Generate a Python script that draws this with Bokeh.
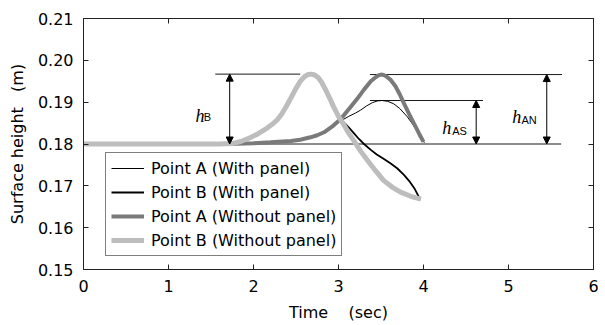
from bokeh.plotting import figure
from bokeh.models import (Range1d, LinearAxis, FixedTicker, NumeralTickFormatter,
                          CustomJSTickFormatter, Legend, LegendItem, Arrow, NormalHead, Label)
from bokeh.embed import file_html
from bokeh.resources import INLINE

# ---------------- data ----------------
x_ticks = [0, 1, 2, 3, 4, 5, 6]
y_ticks = [0.15, 0.16, 0.17, 0.18, 0.19, 0.20, 0.21]

# Point B (Without panel)
t_b_wo = [0.00, 1.60, 1.75, 1.85, 1.96, 2.05, 2.16, 2.22, 2.28, 2.33, 2.38, 2.44, 2.50, 2.55,
          2.60, 2.64, 2.68, 2.72, 2.76, 2.80, 2.85, 2.90, 2.94, 3.00, 3.06, 3.12, 3.18, 3.26,
          3.34, 3.44, 3.53, 3.63, 3.73, 3.85, 3.97]
h_b_wo = [0.1800, 0.1800, 0.1801, 0.1806, 0.1815, 0.1824, 0.1838, 0.1847, 0.1858, 0.1871,
          0.1888, 0.1910, 0.1933, 0.1950, 0.1961, 0.1966, 0.1967, 0.1965, 0.1959, 0.1948,
          0.1929, 0.1908, 0.1890, 0.1866, 0.1847, 0.1826, 0.1808, 0.1783, 0.1761, 0.1735,
          0.1713, 0.1697, 0.1685, 0.1675, 0.1668]

# Point A (Without panel)
t_a_wo = [0.00, 1.70, 2.00, 2.20, 2.44, 2.55, 2.67, 2.75, 2.83, 2.94, 3.00, 3.06, 3.14, 3.22,
          3.30, 3.38, 3.44, 3.47, 3.50, 3.53, 3.56, 3.61, 3.67, 3.72, 3.77, 3.83, 3.89, 3.95,
          4.00]
h_a_wo = [0.1800, 0.1800, 0.1802, 0.1804, 0.1807, 0.1810, 0.1816, 0.1821, 0.1828, 0.1844,
          0.1855, 0.1868, 0.1888, 0.1908, 0.1930, 0.1950, 0.1960, 0.1964, 0.1966, 0.1965,
          0.1962, 0.1954, 0.1938, 0.1919, 0.1897, 0.1872, 0.1848, 0.1824, 0.1805]

# Point A (With panel)
t_a_w = [0.00, 1.70, 2.00, 2.20, 2.44, 2.55, 2.67, 2.75, 2.83, 2.94, 3.00, 3.06, 3.12, 3.20,
         3.26, 3.33, 3.40, 3.46, 3.51, 3.58, 3.65, 3.72, 3.81, 3.87, 3.93, 4.01]
h_a_w = [0.1800, 0.1800, 0.1802, 0.1804, 0.1807, 0.1810, 0.1816, 0.1821, 0.1828, 0.1844,
         0.1852, 0.1859, 0.1866, 0.1874, 0.1881, 0.1891, 0.1899, 0.1903, 0.1904, 0.1902,
         0.1896, 0.1885, 0.1865, 0.1848, 0.1830, 0.1803]

# Point B (With panel)
t_b_w = [0.00, 1.60, 1.75, 1.85, 1.96, 2.05, 2.16, 2.22, 2.28, 2.33, 2.38, 2.44, 2.50, 2.55,
         2.60, 2.64, 2.68, 2.72, 2.76, 2.80, 2.85, 2.90, 2.94, 3.00, 3.06, 3.12, 3.18, 3.24,
         3.30, 3.38, 3.45, 3.53, 3.61, 3.69, 3.77, 3.83, 3.89, 3.95]
h_b_w = [0.1800, 0.1800, 0.1801, 0.1806, 0.1815, 0.1824, 0.1838, 0.1847, 0.1858, 0.1871,
         0.1888, 0.1910, 0.1933, 0.1950, 0.1961, 0.1966, 0.1967, 0.1965, 0.1959, 0.1948,
         0.1929, 0.1908, 0.1890, 0.1868, 0.1852, 0.1840, 0.1826, 0.1812, 0.1800, 0.1786,
         0.1775, 0.1765, 0.1754, 0.1742, 0.1726, 0.1712, 0.1695, 0.1672]

labels = ["Point A (With panel)", "Point B (With panel)",
          "Point A (Without panel)", "Point B (Without panel)"]

FONT = "DejaVu Sans"

p = figure(width=605, height=325, output_backend="svg", toolbar_location=None,
           x_range=Range1d(0, 6), y_range=Range1d(0.15, 0.21),
           min_border_left=83, min_border_right=12, min_border_top=18, min_border_bottom=56)
p.grid.visible = False
p.outline_line_color = "#222222"
p.background_fill_color = "white"
p.border_fill_color = "white"

top_ax = LinearAxis()
right_ax = LinearAxis()
p.add_layout(top_ax, "above")
p.add_layout(right_ax, "right")

xb = p.below[0]
yl = p.left[0]
for ax, tk in [(xb, x_ticks), (top_ax, x_ticks), (yl, y_ticks), (right_ax, y_ticks)]:
    ax.ticker = FixedTicker(ticks=tk)
    ax.major_tick_in = 5
    ax.major_tick_out = 0
    ax.minor_tick_in = 0
    ax.minor_tick_out = 0
    ax.axis_line_color = "#222222"
    ax.major_tick_line_color = "#222222"
    ax.major_label_text_font = FONT
    ax.major_label_text_font_size = "16px"
    ax.major_label_text_color = "black"
    ax.axis_label_text_font = FONT
    ax.axis_label_text_font_size = "16px"
    ax.axis_label_text_font_style = "normal"
    ax.axis_label_text_color = "black"

for ax in (top_ax, right_ax):
    ax.formatter = CustomJSTickFormatter(code="return ''")
    ax.major_label_text_font_size = "0px"
    ax.major_label_standoff = 0

yl.formatter = NumeralTickFormatter(format="0.00")
xb.major_label_standoff = 10
yl.major_label_standoff = 10
xb.axis_label = "Time\u00a0\u00a0\u00a0 (sec)"
yl.axis_label = "Surface height\u00a0\u00a0 (m)"
xb.axis_label_standoff = 8
yl.axis_label_standoff = 8

# ---------------- reference lines and arrows ----------------
base = h_b_wo[0]
y_b = max(h_b_wo)
y_an = max(h_a_wo)
y_as = max(h_a_w)
p.segment(x0=[1.55, 3.37, 3.37, 0.0], y0=[y_b, y_an, y_as, base],
          x1=[2.55, 5.63, 4.70, 5.62], y1=[y_b, y_an, y_as, base],
          line_color="#1a1a1a", line_width=1)

# ---------------- curves ----------------
r_bw = p.line(t_b_w, h_b_w, line_color="black", line_width=1.8)
r_aw = p.line(t_a_w, h_a_w, line_color="black", line_width=1)
r_awo = p.line(t_a_wo, h_a_wo, line_color="#7a7a7a", line_width=4)
r_bwo = p.line(t_b_wo, h_b_wo, line_color="#bdbdbd", line_width=5)

for xa, ytop in [(1.72, y_b), (4.62, y_as), (5.45, y_an)]:
    p.add_layout(Arrow(start=NormalHead(size=7, fill_color="black", line_color="black"),
                       end=NormalHead(size=7, fill_color="black", line_color="black"),
                       x_start=xa, y_start=base, x_end=xa, y_end=ytop,
                       line_color="black", line_width=1))

for hx, hy, sx, sy, sub in [(1.318, 0.1868, 1.415, 0.1865, "B"),
                            (4.22, 0.1839, 4.337, 0.1832, "AS"),
                            (5.043, 0.1864, 5.153, 0.1858, "AN")]:
    p.add_layout(Label(x=hx, y=hy, text="h", text_font="Liberation Serif",
                       text_font_style="italic", text_font_size="18px",
                       text_color="black", text_baseline="alphabetic"))
    p.add_layout(Label(x=sx, y=sy, text=sub, text_font="Liberation Sans",
                       text_font_size="11px", text_color="black",
                       text_baseline="alphabetic"))

legend = Legend(items=[LegendItem(label=labels[0], renderers=[r_aw]),
                       LegendItem(label=labels[1], renderers=[r_bw]),
                       LegendItem(label=labels[2], renderers=[r_awo]),
                       LegendItem(label=labels[3], renderers=[r_bwo])],
                location=(22, 13), glyph_width=33, glyph_height=20, label_height=20,
                spacing=4, padding=5, label_standoff=7, margin=0,
                border_line_color="black", border_line_width=1,
                background_fill_color="white", background_fill_alpha=1,
                label_text_font=FONT, label_text_font_size="16px",
                label_text_color="black")
p.add_layout(legend)

open("out.html", "w").write(file_html(p, INLINE))
